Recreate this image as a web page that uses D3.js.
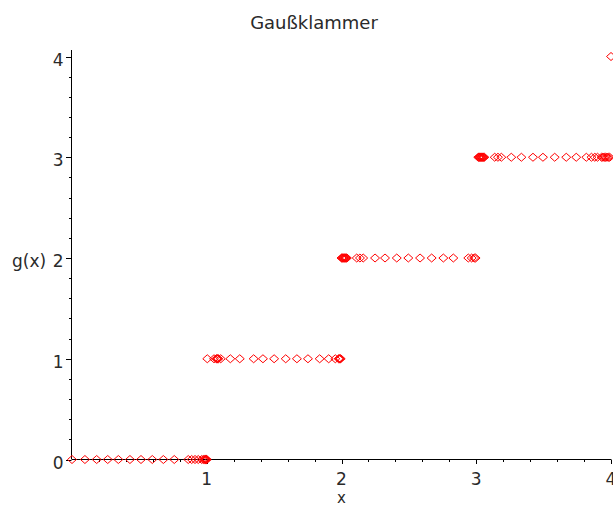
<!DOCTYPE html>
<html>
<head>
<meta charset="utf-8">
<script src="https://cdn.jsdelivr.net/npm/d3@7"></script>
<style>
  body { margin: 0; background: #fff; }
  text { font-family: "DejaVu Sans", sans-serif; fill: #2a2a2a; }
</style>
</head>
<body>
<svg width="613" height="506"></svg>
<script>
// sample points of g(x) = floor(x), one array per step
let levels = [0, 1, 2, 3, 4];
let xsLevel0 = [0, 0.096, 0.183, 0.265, 0.344, 0.43, 0.512, 0.596, 0.678, 0.759,
  0.863, 0.888, 0.913, 0.937, 0.962, 0.975, 0.982, 0.988, 0.992, 0.995, 0.998, 1.0];
let xsLevel1 = [1.004, 1.054, 1.071, 1.076, 1.081, 1.086, 1.104, 1.175, 1.245, 1.348,
  1.417, 1.5, 1.586, 1.669, 1.751, 1.838, 1.905, 1.954, 1.979, 1.984, 1.989, 1.994];
let xsLevel2 = [2.0, 2.005, 2.01, 2.015, 2.02, 2.025, 2.03, 2.035, 2.04, 2.113, 2.137,
  2.161, 2.249, 2.323, 2.41, 2.496, 2.583, 2.669, 2.756, 2.83, 2.941, 2.966, 2.985, 2.995];
let xsLevel3 = [3.015, 3.02, 3.025, 3.03, 3.035, 3.04, 3.045, 3.05, 3.055, 3.06, 3.137,
  3.161, 3.186, 3.26, 3.335, 3.421, 3.495, 3.582, 3.668, 3.742, 3.817, 3.855, 3.88,
  3.9, 3.93, 3.94, 3.95, 3.96, 3.97, 3.98, 3.99];
let xsLevel4 = [4.0];
let xTicks = [1, 2, 3, 4];
let yTicks = [0, 1, 2, 3, 4];

let svg = d3.select("svg");

//scales, plot box
let xScale = d3.scaleLinear().domain([0, 4]).range([72, 611]);
let yScale = d3.scaleLinear().domain([0, 4]).range([459.5, 56.5]);

let points = [];
[xsLevel0, xsLevel1, xsLevel2, xsLevel3, xsLevel4].forEach(function(xs, i) {
  xs.forEach(function(x) {
    points.push({ x: x, y: levels[i] });
  });
});

// title
svg.append("text")
  .attr("x", 314)
  .attr("y", 29)
  .attr("text-anchor", "middle")
  .style("font-size", "18px")
  .text("Gaußklammer");

// x axis: major ticks with labels, minor ticks every 0.2
let xAxis = svg.append("g").attr("transform", "translate(0," + yScale(0) + ")");
xAxis.append("line")
  .attr("x1", xScale(0)).attr("x2", xScale(4))
  .attr("stroke", "#000");
xAxis.selectAll(".minor")
  .data(d3.range(1, 20).map(function(i) { return i * 0.2; }))
  .enter().append("line")
  .attr("class", "minor")
  .attr("x1", function(d) { return Math.round(xScale(d)) + 0.5; })
  .attr("x2", function(d) { return Math.round(xScale(d)) + 0.5; })
  .attr("y1", 0).attr("y2", 2.5)
  .attr("stroke", "#000");
xAxis.selectAll(".major")
  .data(xTicks)
  .enter().append("line")
  .attr("class", "major")
  .attr("x1", function(d) { return Math.round(xScale(d)) + 0.5; })
  .attr("x2", function(d) { return Math.round(xScale(d)) + 0.5; })
  .attr("y1", 0).attr("y2", 4.5)
  .attr("stroke", "#000");
xAxis.selectAll(".tlabel")
  .data(xTicks)
  .enter().append("text")
  .attr("class", "tlabel")
  .attr("x", function(d) { return xScale(d); })
  .attr("y", 25)
  .attr("text-anchor", "middle")
  .style("font-size", "17px")
  .text(function(d) { return d; });

svg.append("text")
  .attr("x", (xScale(0) + xScale(4)) / 2)
  .attr("y", 503)
  .attr("text-anchor", "middle")
  .style("font-size", "15px")
  .text("x");

// y axis
let yAxis = svg.append("g").attr("transform", "translate(" + (xScale(0) - 0.5) + ",0)");
yAxis.append("line")
  .attr("y1", yScale(0)).attr("y2", 50)
  .attr("stroke", "#000");
yAxis.selectAll(".minor")
  .data(d3.range(1, 20).map(function(i) { return i * 0.2; }))
  .enter().append("line")
  .attr("class", "minor")
  .attr("y1", function(d) { return Math.round(yScale(d)) + 0.5; })
  .attr("y2", function(d) { return Math.round(yScale(d)) + 0.5; })
  .attr("x1", 0).attr("x2", -2.5)
  .attr("stroke", "#000");
yAxis.selectAll(".major")
  .data(yTicks)
  .enter().append("line")
  .attr("class", "major")
  .attr("y1", function(d) { return Math.round(yScale(d)) + 0.5; })
  .attr("y2", function(d) { return Math.round(yScale(d)) + 0.5; })
  .attr("x1", 0).attr("x2", -5.5)
  .attr("stroke", "#000");
yAxis.selectAll(".tlabel")
  .data(yTicks)
  .enter().append("text")
  .attr("class", "tlabel")
  .attr("x", -8)
  .attr("y", function(d) { return yScale(d) + 9; })
  .attr("text-anchor", "end")
  .style("font-size", "17px")
  .text(function(d) { return d; });

svg.append("text")
  .attr("x", 12)
  .attr("y", yScale(2) + 9)
  .style("font-size", "17px")
  .text("g(x)");

// diamond markers, outline only
let diamond = "M0,-4L4.5,0L0,4L-4.5,0Z";
svg.append("g")
  .selectAll(".pt")
  .data(points)
  .enter().append("path")
  .attr("class", "pt")
  .attr("d", diamond)
  .attr("transform", function(d) {
    return "translate(" + xScale(d.x) + "," + yScale(d.y) + ")";
  })
  .attr("fill", "none")
  .attr("stroke", "#ff0000")
  .attr("stroke-width", 1);
</script>
</body>
</html>
